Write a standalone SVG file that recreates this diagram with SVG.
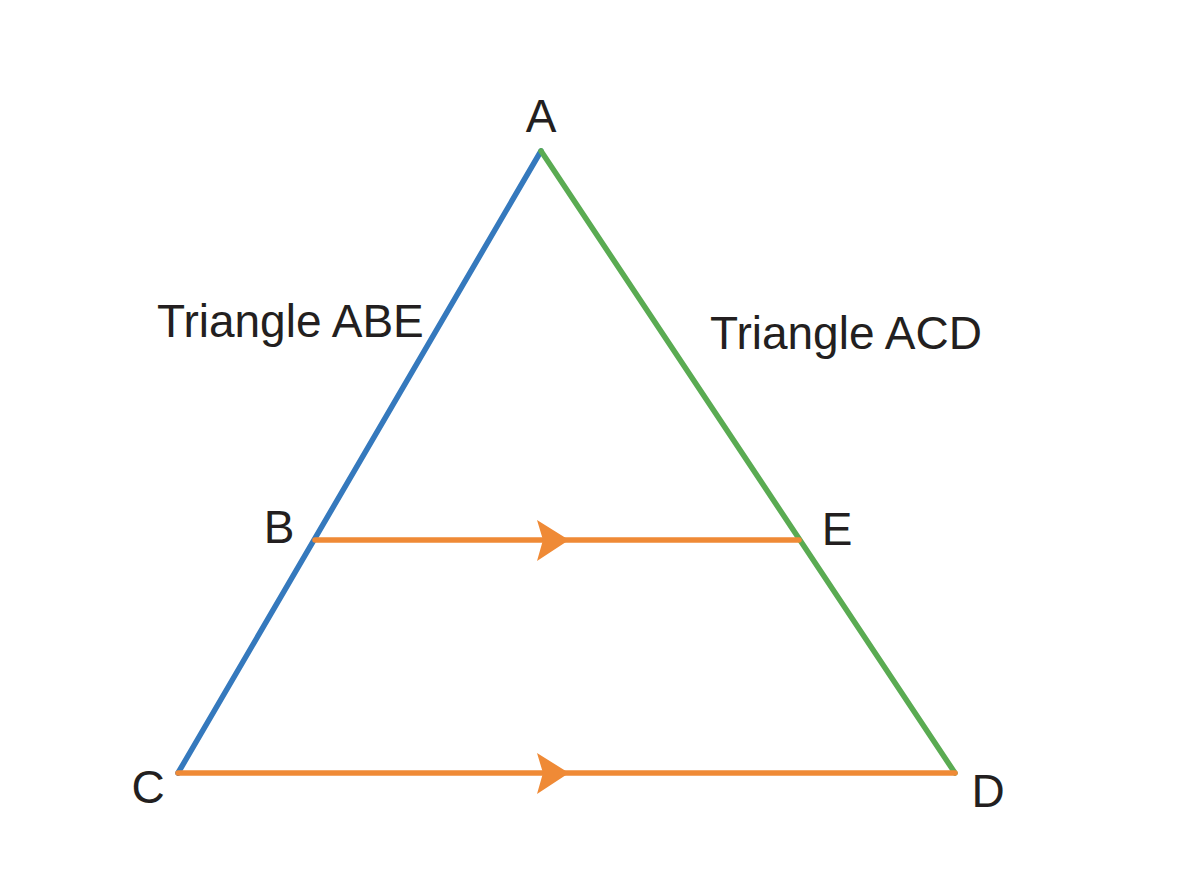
<svg xmlns="http://www.w3.org/2000/svg" width="1200" height="896" viewBox="0 0 1200 896">
<style>
text{font-family:"Liberation Sans",Arial,sans-serif;fill:#231f20;font-size:46px}
.blue{stroke:#3579bd;stroke-width:5.5;stroke-linecap:round;fill:none}
.green{stroke:#5aab52;stroke-width:5.5;stroke-linecap:round;fill:none}
.orange{stroke:#ef8a36;stroke-width:5.5;stroke-linecap:round;fill:none}
.head{fill:#ef8a36}
</style>
<rect width="1200" height="896" fill="#ffffff"/>
<g id="connectors">
<line class="blue" x1="541" y1="151" x2="178" y2="773"/>
<line class="green" x1="541" y1="151" x2="955" y2="773"/>
<line class="orange" x1="315" y1="540" x2="799" y2="540"/>
<line class="orange" x1="178" y1="773" x2="955" y2="773"/>
<path class="head" d="M537,520 L569,540 L537,561 L543,540 Z"/>
<path class="head" d="M537,753 L569,773 L537,794 L543,773 Z"/>
</g>
<g id="node-A"><text x="541" y="132" text-anchor="middle">A</text></g>
<g id="node-B"><text x="279" y="543" text-anchor="middle">B</text></g>
<g id="node-C"><text x="148" y="803" text-anchor="middle">C</text></g>
<g id="node-D"><text x="988" y="807" text-anchor="middle">D</text></g>
<g id="node-E"><text x="837" y="545" text-anchor="middle">E</text></g>
<g id="label-ABE"><text x="157" y="337">Triangle ABE</text></g>
<g id="label-ACD"><text x="710" y="349">Triangle ACD</text></g>
</svg>
